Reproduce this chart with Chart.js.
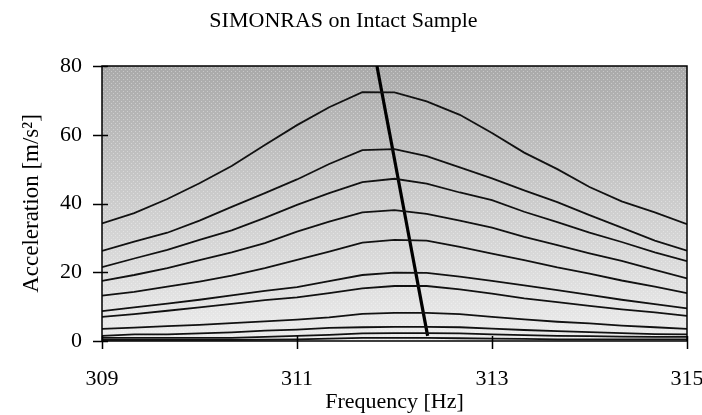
<!DOCTYPE html>
<html>
<head>
<meta charset="utf-8">
<script src="https://cdn.jsdelivr.net/npm/chart.js@4.4.1/dist/chart.umd.min.js"></script>
<style>
  html, body { margin: 0; padding: 0; background: #ffffff; }
  #wrap { width: 702px; height: 415px; }
</style>
</head>
<body>
<div id="wrap"><canvas id="resChart" width="702" height="415"></canvas></div>
<script>
// Frequencies (Hz) at which each sweep was sampled
const freq = [309, 309.33, 309.67, 310, 310.33, 310.67, 311, 311.33, 311.67, 312,
              312.33, 312.67, 313, 313.33, 313.67, 314, 314.33, 314.67, 315];

// Acceleration response (m/s^2), one array per excitation level
const acc1  = [34.2, 37.2, 41.3, 45.9, 50.9, 57.0, 62.8, 68.0, 72.4, 72.3, 69.7, 65.8, 60.5, 54.8, 50.0, 44.8, 40.6, 37.4, 34.0];
const acc2  = [26.2, 28.9, 31.5, 35.0, 39.0, 43.0, 47.0, 51.5, 55.5, 55.8, 53.8, 50.5, 47.3, 43.8, 40.4, 36.6, 33.0, 29.2, 26.3];
const acc3  = [21.5, 24.0, 26.5, 29.4, 32.2, 35.8, 39.6, 43.0, 46.2, 47.2, 45.8, 43.2, 41.0, 37.6, 34.6, 31.5, 28.8, 25.8, 23.2];
const acc4  = [17.5, 19.2, 21.2, 23.5, 25.8, 28.5, 31.8, 34.7, 37.4, 38.1, 37.0, 35.0, 33.0, 30.3, 27.9, 25.5, 23.3, 20.7, 18.2];
const acc5  = [13.2, 14.3, 15.8, 17.3, 19.0, 21.2, 23.6, 26.0, 28.6, 29.4, 29.2, 27.4, 25.4, 23.5, 21.4, 19.6, 17.6, 15.8, 13.9];
const acc6  = [8.7, 9.8, 10.9, 12.0, 13.3, 14.6, 15.7, 17.4, 19.2, 19.9, 19.8, 18.7, 17.5, 16.2, 14.8, 13.4, 12.0, 10.7, 9.5];
const acc7  = [7.0, 7.8, 8.8, 9.8, 10.8, 11.9, 12.7, 13.9, 15.3, 16.0, 16.0, 15.0, 13.8, 12.4, 11.3, 10.2, 9.2, 8.3, 7.3];
const acc8  = [3.5, 3.9, 4.3, 4.7, 5.2, 5.7, 6.2, 6.9, 7.9, 8.2, 8.2, 7.8, 7.0, 6.3, 5.6, 5.1, 4.5, 4.0, 3.5];
const acc9  = [1.5, 1.9, 1.9, 2.2, 2.5, 3.0, 3.3, 3.8, 4.0, 4.1, 4.1, 4.0, 3.6, 3.2, 2.9, 2.6, 2.3, 2.0, 1.9];
const acc10 = [0.9, 0.9, 0.9, 0.9, 0.9, 1.2, 1.5, 1.8, 2.2, 2.3, 2.3, 2.2, 1.9, 1.7, 1.5, 1.4, 1.3, 1.2, 1.2];
const acc11 = [0.3, 0.3, 0.3, 0.3, 0.3, 0.4, 0.5, 0.7, 0.9, 0.9, 0.9, 0.8, 0.7, 0.6, 0.5, 0.5, 0.5, 0.5, 0.5];

// Backbone curve through the peaks
const backboneFreq = [311.82, 312.34];
const backboneAcc = [80, 1.5];

// Axis ticks
const xTicks = [309, 311, 313, 315];
const yTicks = [0, 20, 40, 60, 80];

const sweeps = [acc1, acc2, acc3, acc4, acc5, acc6, acc7, acc8, acc9, acc10, acc11];

const toPoints = (xs, ys) => xs.map((x, i) => ({ x: x, y: ys[i] }));

const datasets = sweeps.map((s, i) => ({
    label: 'Level ' + (i + 1),
    data: toPoints(freq, s),
    borderColor: '#111111',
    borderWidth: 1.8,
    pointRadius: 0,
    tension: 0
}));
datasets.push({
    label: 'Backbone',
    data: toPoints(backboneFreq, backboneAcc),
    borderColor: '#000000',
    borderWidth: 3.2,
    pointRadius: 0,
    tension: 0
});

// grey shaded plot area with a light dotted texture
const plotBackground = {
    id: 'plotBackground',
    beforeDatasetsDraw(chart) {
        const { ctx, chartArea: a } = chart;
        ctx.save();
        const g = ctx.createLinearGradient(0, a.top, 0, a.bottom);
        g.addColorStop(0, '#a9a9a9');
        g.addColorStop(0.5, '#cdcdcd');
        g.addColorStop(1, '#ececec');
        ctx.fillStyle = g;
        ctx.fillRect(a.left, a.top, a.right - a.left, a.bottom - a.top);

        const pc = document.createElement('canvas');
        pc.width = 4; pc.height = 4;
        const p = pc.getContext('2d');
        p.fillStyle = 'rgba(255,255,255,0.35)';
        p.fillRect(1, 1, 1, 1);
        p.fillRect(3, 3, 1, 1);
        ctx.fillStyle = ctx.createPattern(pc, 'repeat');
        ctx.fillRect(a.left, a.top, a.right - a.left, a.bottom - a.top);
        ctx.restore();
    }
};

// box round the plot and tick marks that cross the axes
const plotFrame = {
    id: 'plotFrame',
    afterDraw(chart) {
        const { ctx, chartArea: a, scales } = chart;
        ctx.save();
        ctx.strokeStyle = '#000';
        ctx.lineWidth = 1.5;
        ctx.strokeRect(a.left, a.top, a.right - a.left, a.bottom - a.top);
        ctx.beginPath();
        xTicks.forEach(v => {
            const px = Math.round(scales.x.getPixelForValue(v)) + 0.5;
            ctx.moveTo(px, a.bottom - 5);
            ctx.lineTo(px, a.bottom + 8);
        });
        yTicks.forEach(v => {
            const py = Math.round(scales.y.getPixelForValue(v)) + 0.5;
            ctx.moveTo(a.left - 9, py);
            ctx.lineTo(a.left + 6, py);
        });
        ctx.stroke();
        ctx.restore();
    }
};

const serif = "'Liberation Serif', 'Times New Roman', serif";

new Chart(document.getElementById('resChart').getContext('2d'), {
    type: 'line',
    data: { datasets: datasets },
    options: {
        responsive: false,
        animation: false,
        layout: { padding: { left: 0, right: 15, top: 0, bottom: 0 } },
        plugins: {
            legend: { display: false },
            tooltip: { enabled: false },
            title: {
                display: true,
                text: 'SIMONRAS on Intact Sample',
                color: '#000',
                font: { family: serif, size: 22, weight: 'normal' },
                padding: { top: 8, bottom: 31.6 }
            }
        },
        scales: {
            x: {
                type: 'linear',
                min: 309,
                max: 315,
                afterFit(scale) {
                    scale.height = 74;
                    scale.paddingLeft = 0;
                    scale.paddingRight = 15;
                },
                afterBuildTicks(scale) { scale.ticks = xTicks.map(v => ({ value: v })); },
                grid: { display: false, drawTicks: false },
                border: { display: false },
                ticks: {
                    padding: 25,
                    color: '#000',
                    maxRotation: 0,
                    font: { family: serif, size: 22 }
                },
                title: {
                    display: true,
                    text: 'Frequency [Hz]',
                    color: '#000',
                    font: { family: serif, size: 22 },
                    padding: { top: 0, bottom: 0 }
                }
            },
            y: {
                min: 0,
                max: 80,
                afterFit(scale) {
                    scale.width = 102;
                    scale.paddingTop = 0;
                    scale.paddingBottom = 0;
                },
                afterBuildTicks(scale) { scale.ticks = yTicks.map(v => ({ value: v })); },
                grid: { display: false, drawTicks: false },
                border: { display: false },
                ticks: {
                    padding: 20,
                    color: '#000',
                    font: { family: serif, size: 22 }
                },
                title: {
                    display: true,
                    text: 'Acceleration [m/s²]',
                    color: '#000',
                    font: { family: serif, size: 23 },
                    padding: { top: 18, bottom: 0 }
                }
            }
        }
    },
    plugins: [plotBackground, plotFrame]
});
</script>
</body>
</html>
